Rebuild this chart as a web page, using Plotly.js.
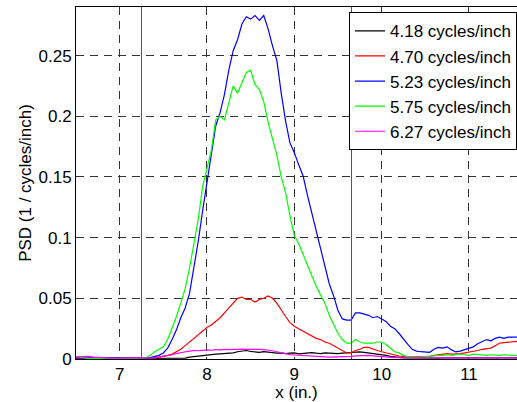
<!DOCTYPE html>
<html>
<head>
<meta charset="utf-8">
<script src="https://cdn.plot.ly/plotly-3.0.1.min.js"></script>
<style>html,body{margin:0;padding:0;background:#fff;}#chart{width:517px;height:402px;}</style>
</head>
<body>
<div id="chart"></div>
<script>
var xPos = [6.50,6.55,6.60,6.65,6.70,6.75,6.80,6.85,6.90,6.95,
            7.00,7.05,7.10,7.15,7.20,7.25,7.30,7.35,7.40,7.45,
            7.50,7.55,7.60,7.65,7.70,7.75,7.80,7.85,7.90,7.95,
            8.00,8.05,8.10,8.15,8.20,8.25,8.30,8.35,8.40,8.45,
            8.50,8.55,8.60,8.65,8.70,8.75,8.80,8.85,8.90,8.95,
            9.00,9.05,9.10,9.15,9.20,9.25,9.30,9.35,9.40,9.45,
            9.50,9.55,9.60,9.65,9.70,9.75,9.80,9.85,9.90,9.95,
            10.00,10.05,10.10,10.15,10.20,10.25,10.30,10.35,10.40,10.45,
            10.50,10.55,10.60,10.65,10.70,10.75,10.80,10.85,10.90,10.95,
            11.00,11.05,11.10,11.15,11.20,11.25,11.30,11.35,11.40,11.45,
            11.50,11.55];

var seriesNames = ["4.18 cycles/inch","4.70 cycles/inch","5.23 cycles/inch","5.75 cycles/inch","6.27 cycles/inch"];

var psd418 = [0.0003,0.0003,0.0003,0.0002,0.0002,0.0002,0.0002,0.0002,0.0002,0.0002,
              0.0002,0.0002,0.0002,0.0002,0.0002,0.0002,0.0002,0.0003,0.0003,0.0003,
              0.0003,0.0003,0.0004,0.0004,0.0005,0.0008,0.0015,0.0020,0.0025,0.0030,
              0.0033,0.0035,0.0040,0.0042,0.0045,0.0048,0.0050,0.0060,0.0068,0.0070,
              0.0062,0.0058,0.0055,0.0060,0.0055,0.0050,0.0048,0.0050,0.0045,0.0048,
              0.0050,0.0042,0.0045,0.0050,0.0052,0.0048,0.0045,0.0050,0.0048,0.0042,
              0.0045,0.0048,0.0050,0.0055,0.0060,0.0058,0.0055,0.0050,0.0048,0.0045,
              0.0040,0.0030,0.0022,0.0016,0.0012,0.0010,0.0009,0.0008,0.0008,0.0007,
              0.0007,0.0007,0.0008,0.0008,0.0009,0.0009,0.0010,0.0010,0.0011,0.0012,
              0.0012,0.0013,0.0012,0.0012,0.0011,0.0011,0.0010,0.0010,0.0010,0.0009,
              0.0009,0.0009];

var psd470 = [0.0005,0.0005,0.0006,0.0005,0.0005,0.0005,0.0004,0.0004,0.0004,0.0004,
              0.0004,0.0004,0.0005,0.0005,0.0005,0.0006,0.0007,0.0008,0.0010,0.0015,
              0.0020,0.0030,0.0040,0.0060,0.0080,0.0110,0.0140,0.0170,0.0200,0.0230,
              0.0260,0.0280,0.0310,0.0340,0.0380,0.0420,0.0460,0.0500,0.0510,0.0490,
              0.0490,0.0470,0.0490,0.0500,0.0520,0.0500,0.0460,0.0400,0.0350,0.0300,
              0.0270,0.0250,0.0230,0.0210,0.0190,0.0170,0.0160,0.0140,0.0130,0.0110,
              0.0090,0.0070,0.0050,0.0050,0.0070,0.0080,0.0095,0.0095,0.0080,0.0070,
              0.0060,0.0050,0.0040,0.0030,0.0025,0.0020,0.0020,0.0018,0.0018,0.0020,
              0.0020,0.0022,0.0030,0.0035,0.0040,0.0045,0.0040,0.0040,0.0045,0.0050,
              0.0055,0.0060,0.0070,0.0080,0.0085,0.0090,0.0110,0.0130,0.0135,0.0140,
              0.0145,0.0145];

var psd523 = [0.0010,0.0010,0.0008,0.0006,0.0005,0.0005,0.0004,0.0004,0.0004,0.0004,
              0.0004,0.0004,0.0005,0.0005,0.0005,0.0006,0.0008,0.0012,0.0020,0.0030,
              0.0050,0.0090,0.0160,0.0240,0.0340,0.0420,0.0540,0.0750,0.0970,0.1220,
              0.1450,0.1680,0.1920,0.2030,0.2180,0.2380,0.2540,0.2630,0.2760,0.2820,
              0.2800,0.2830,0.2790,0.2830,0.2720,0.2580,0.2460,0.2190,0.1960,0.1780,
              0.1700,0.1600,0.1510,0.1350,0.1200,0.1060,0.0900,0.0750,0.0620,0.0520,
              0.0400,0.0330,0.0320,0.0320,0.0380,0.0380,0.0370,0.0360,0.0340,0.0350,
              0.0330,0.0310,0.0270,0.0250,0.0210,0.0160,0.0120,0.0080,0.0065,0.0060,
              0.0055,0.0055,0.0080,0.0095,0.0090,0.0100,0.0075,0.0058,0.0065,0.0075,
              0.0090,0.0100,0.0125,0.0140,0.0160,0.0150,0.0170,0.0180,0.0170,0.0180,
              0.0180,0.0180];

var psd575 = [0.0020,0.0015,0.0005,0.0003,0.0003,0.0003,0.0003,0.0003,0.0003,0.0003,
              0.0003,0.0003,0.0003,0.0003,0.0003,0.0004,0.0010,0.0030,0.0060,0.0080,
              0.0100,0.0160,0.0250,0.0350,0.0460,0.0580,0.0750,0.0940,0.1150,0.1420,
              0.1560,0.1720,0.1970,0.2000,0.1970,0.2120,0.2250,0.2190,0.2280,0.2360,
              0.2380,0.2260,0.2220,0.2120,0.1950,0.1820,0.1680,0.1500,0.1370,0.1180,
              0.1020,0.0950,0.0860,0.0770,0.0680,0.0600,0.0530,0.0460,0.0360,0.0280,
              0.0210,0.0160,0.0130,0.0130,0.0160,0.0140,0.0130,0.0130,0.0130,0.0140,
              0.0140,0.0120,0.0090,0.0060,0.0050,0.0030,0.0020,0.0015,0.0015,0.0015,
              0.0020,0.0020,0.0025,0.0030,0.0030,0.0035,0.0030,0.0035,0.0040,0.0035,
              0.0030,0.0040,0.0035,0.0030,0.0030,0.0035,0.0030,0.0030,0.0035,0.0030,
              0.0030,0.0028];

var psd627 = [0.0018,0.0020,0.0025,0.0022,0.0015,0.0012,0.0008,0.0006,0.0006,0.0006,
              0.0006,0.0006,0.0006,0.0006,0.0006,0.0006,0.0006,0.0007,0.0010,0.0015,
              0.0020,0.0028,0.0035,0.0045,0.0055,0.0060,0.0065,0.0070,0.0068,0.0072,
              0.0075,0.0072,0.0078,0.0075,0.0080,0.0078,0.0080,0.0085,0.0082,0.0080,
              0.0082,0.0078,0.0080,0.0077,0.0074,0.0068,0.0060,0.0050,0.0042,0.0036,
              0.0033,0.0030,0.0026,0.0023,0.0020,0.0019,0.0018,0.0017,0.0016,0.0016,
              0.0017,0.0018,0.0020,0.0022,0.0026,0.0028,0.0030,0.0030,0.0026,0.0022,
              0.0018,0.0015,0.0013,0.0012,0.0011,0.0010,0.0010,0.0010,0.0010,0.0010,
              0.0010,0.0010,0.0010,0.0010,0.0010,0.0010,0.0010,0.0010,0.0010,0.0010,
              0.0010,0.0010,0.0010,0.0010,0.0010,0.0010,0.0010,0.0010,0.0010,0.0010,
              0.0010,0.0010];

var seriesColors = ["#000000","#ff0000","#0000ff","#00ff00","#ff00ff"];
var yTickVals = [0, 0.05, 0.1, 0.15, 0.2, 0.25];
var yTickText = ["0","0.05","0.1","0.15","0.2","0.25"];
var xTickVals = [7, 8, 9, 10, 11];
var xTickText = ["7","8","9","10","11"];
var markerLinesX = [7.25, 9.655];

var allY = [psd418, psd470, psd523, psd575, psd627];
var traces = allY.map(function(ys, i){
  return {x: xPos, y: ys, type: 'scatter', mode: 'lines', name: seriesNames[i],
          line: {color: seriesColors[i], width: 1.2}};
});

var fontFam = 'Liberation Sans, Arial, sans-serif';
var shapes = markerLinesX.map(function(xv){
  return {type: 'line', xref: 'x', yref: 'paper', x0: xv, x1: xv, y0: 0, y1: 1,
          line: {color: '#555555', width: 1}, layer: 'above'};
});

var layout = {
  width: 517, height: 402,
  margin: {l: 76, r: 0, t: 7, b: 43},
  paper_bgcolor: '#fff', plot_bgcolor: '#fff',
  font: {family: fontFam, size: 17, color: '#000'},
  showlegend: true,
  legend: {x: 1, xanchor: 'right', y: 0.985, yanchor: 'top',
           bgcolor: '#fff', bordercolor: '#000', borderwidth: 1,
           font: {family: fontFam, size: 17, color: '#000'}, tracegroupgap: 0},
  xaxis: {range: [6.5, 11.55], tickvals: xTickVals, ticktext: xTickText,
          showgrid: true, gridcolor: '#333', griddash: '8px,6px', gridwidth: 1,
          zeroline: false, showline: true, linecolor: '#000', linewidth: 1, mirror: true,
          ticks: '', title: {text: 'x (in.)', font: {family: fontFam, size: 17}, standoff: 1}},
  yaxis: {range: [0, 0.29], tickvals: yTickVals, ticktext: yTickText,
          showgrid: true, gridcolor: '#333', griddash: '8px,6px', gridwidth: 1,
          zeroline: false, showline: true, linecolor: '#000', linewidth: 1, mirror: true,
          ticks: '', title: {text: 'PSD (1 / cycles/inch)', font: {family: fontFam, size: 17}, standoff: 2}},
  shapes: shapes
};

Plotly.newPlot('chart', traces, layout, {displayModeBar: false, staticPlot: true});
</script>
</body>
</html>
